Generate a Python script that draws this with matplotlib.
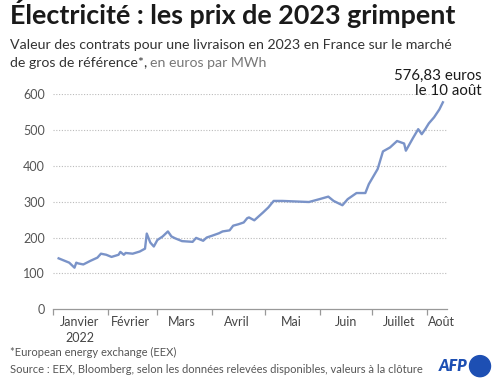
import matplotlib
matplotlib.use("Agg")
import matplotlib.pyplot as plt
import pandas as pd
from matplotlib.patches import Ellipse

plt.rcParams['font.family'] = ['Lato', 'DejaVu Sans']

dates = ["2022-01-04", "2022-01-10", "2022-01-13", "2022-01-14", "2022-01-15", "2022-01-18",
         "2022-01-22", "2022-01-26", "2022-01-28", "2022-01-31", "2022-02-03", "2022-02-07",
         "2022-02-08", "2022-02-10", "2022-02-11", "2022-02-15", "2022-02-19", "2022-02-22",
         "2022-02-23", "2022-02-25", "2022-02-27", "2022-03-01", "2022-03-04", "2022-03-07",
         "2022-03-09", "2022-03-11", "2022-03-15", "2022-03-21", "2022-03-23", "2022-03-27",
         "2022-03-29", "2022-04-01", "2022-04-05", "2022-04-07", "2022-04-11", "2022-04-13",
         "2022-04-16", "2022-04-19", "2022-04-21", "2022-04-22", "2022-04-25", "2022-04-30",
         "2022-05-03", "2022-05-06", "2022-05-11", "2022-05-26", "2022-06-01", "2022-06-06",
         "2022-06-09", "2022-06-14", "2022-06-17", "2022-06-22", "2022-06-27", "2022-06-29",
         "2022-07-04", "2022-07-07", "2022-07-11", "2022-07-15", "2022-07-19", "2022-07-20",
         "2022-07-24", "2022-07-27", "2022-07-29", "2022-07-31", "2022-08-02", "2022-08-05",
         "2022-08-08", "2022-08-10"]
prices = [142, 130, 116, 130, 128, 125,
          135, 144, 155, 152, 146, 152,
          160, 152, 157, 155, 161, 169,
          211, 186, 175, 193, 203, 217,
          203, 198, 190, 188, 199, 191,
          200, 205, 212, 217, 220, 233,
          237, 242, 254, 256, 248, 270,
          284, 302, 302, 299, 307, 314,
          302, 290, 307, 324, 324, 349,
          391, 440, 451, 469, 462, 442,
          477, 502, 488, 502, 518, 535,
          557, 576.83]

month_starts = ["2022-01-01", "2022-02-01", "2022-03-01", "2022-04-01", "2022-05-01",
                "2022-06-01", "2022-07-01", "2022-08-01"]
month_label_pos = ["2022-01-16", "2022-02-14", "2022-03-15", "2022-04-15", "2022-05-16",
                   "2022-06-16", "2022-07-16", "2022-08-09"]
month_labels = ["Janvier\n2022", "Février", "Mars", "Avril", "Mai", "Juin", "Juillet", "Août"]
y_ticks = [0, 100, 200, 300, 400, 500, 600]

x = pd.to_datetime(dates)

fig = plt.figure(figsize=(5.0, 3.83), dpi=100)
ax = fig.add_axes([0.1067, 0.1924, 0.7873, 0.5622])

line_color = "#7a93c8"
ax.plot(x, prices, color=line_color, lw=1.7, solid_joinstyle="round", zorder=3)

ax.set_xlim(pd.Timestamp("2022-01-01"), pd.Timestamp("2022-08-12 08:00"))
ax.set_ylim(0, 600)

for s in ["top", "right", "left"]:
    ax.spines[s].set_visible(False)
ax.spines["bottom"].set_color("#999999")
ax.spines["bottom"].set_linewidth(0.9)

ax.set_yticks(y_ticks)
ax.set_yticklabels([str(v) for v in y_ticks])
ax.tick_params(axis="y", length=0, pad=6, labelsize=9, labelcolor="#555555")
for v in y_ticks[1:]:
    ax.axhline(v, color="#bbbbbb", lw=0.8, ls=(0, (1, 1.5)), zorder=1)

ax.set_xticks(pd.to_datetime(month_starts))
ax.set_xticklabels([])
ax.tick_params(axis="x", which="major", length=4, width=0.9, color="#999999", direction="out")
ax.set_xticks(pd.to_datetime(month_label_pos), minor=True)
ax.set_xticklabels(month_labels, minor=True)
ax.tick_params(axis="x", which="minor", length=0, pad=5, labelsize=9, labelcolor="#444444")
for lbl in ax.get_xticklabels(minor=True):
    lbl.set_linespacing(1.35)

# Annotation
fig.text(0.964, 0.745, "576,83 euros\nle 10 août", ha="right", va="bottom",
         fontsize=10.8, color="#1a1a1a", linespacing=1.1)

# Title and subtitle
fig.text(0.02, 0.928, "Électricité : les prix de 2023 grimpent", fontsize=19.4,
         fontweight="bold", color="#1a1a1a", ha="left", va="bottom")
fig.text(0.02, 0.868, "Valeur des contrats pour une livraison en 2023 en France sur le marché",
         fontsize=10.2, color="#333333", ha="left", va="bottom")
t = fig.text(0.02, 0.82, "de gros de référence*,", fontsize=10.2, color="#333333",
             ha="left", va="bottom")
fig.canvas.draw()
bb = t.get_window_extent()
x1 = bb.x1 / fig.bbox.width
fig.text(x1 + 0.006, 0.82, "en euros par MWh", fontsize=10.2, color="#777777",
         ha="left", va="bottom")

# Footer
fig.text(0.02, 0.065, "*European energy exchange (EEX)", fontsize=8, color="#555555",
         ha="left", va="bottom")
fig.text(0.02, 0.022, "Source : EEX, Bloomberg, selon les données relevées disponibles, valeurs à la clôture",
         fontsize=8, color="#555555", ha="left", va="bottom")

# AFP logo
afp_blue = "#1d4fb3"
fig.text(0.936, 0.044, "AFP", fontsize=11.5, fontweight="heavy", style="italic",
         color=afp_blue, ha="right", va="center")
fig.patches.append(Ellipse((0.960, 0.044), 0.042, 0.055, transform=fig.transFigure,
                           color=afp_blue))

fig.savefig("out.png", dpi=100)
